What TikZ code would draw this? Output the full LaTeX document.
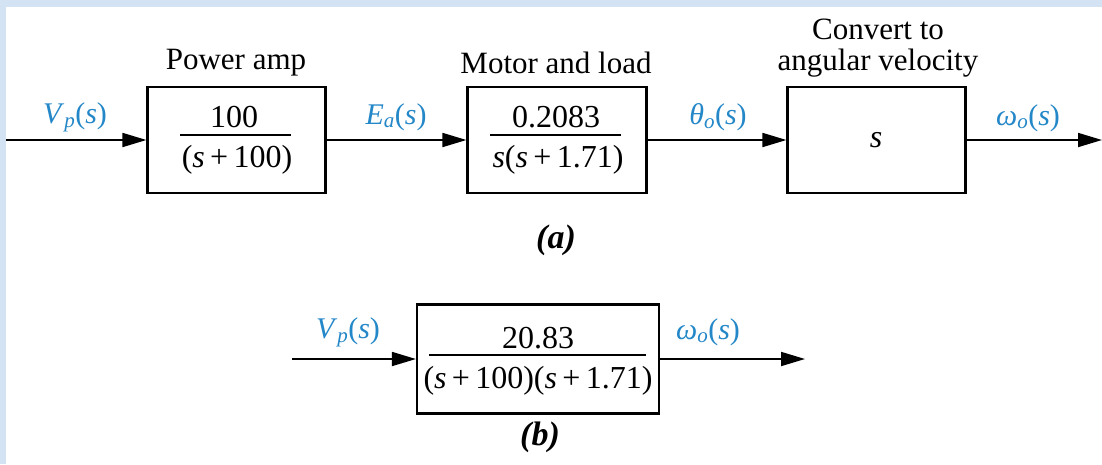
\documentclass[tikz,border=0pt]{standalone}
\usepackage{fontspec}
\setmainfont{Liberation Serif}
\usetikzlibrary{arrows.meta}
\definecolor{sig}{RGB}{35,135,200}
\definecolor{frame}{RGB}{211,227,243}
\newcommand{\iv}[1]{\textit{#1}}
\begin{document}
\begin{tikzpicture}[x=1pt,y=-1pt,
  blk/.style={draw,line width=2.2pt,inner sep=0pt},
  arr/.style={line width=1.8pt,-{Triangle[length=24pt,width=14pt]}},
  bar/.style={line width=1.8pt},
  lbl/.style={text=sig,font=\fontsize{30}{32}\selectfont,inner sep=0pt},
  ttl/.style={font=\fontsize{31}{34}\selectfont,inner sep=0pt,align=center},
  capt/.style={font=\fontsize{34}{36}\selectfont\bfseries\itshape,inner sep=0pt},
  frac/.style={font=\fontsize{32}{34}\selectfont,inner sep=0pt}]
\fill[white] (0,0) rectangle (1102,464);
\useasboundingbox (0,0) rectangle (1102,464);
\fill[frame] (0,0) rectangle (1102,7);
\fill[frame] (0,0) rectangle (6,464);
% (a)
\node[blk,minimum width=178pt,minimum height=106pt] (b1) at (236.5,140) {};
\node[blk,minimum width=179pt,minimum height=106pt] (b2) at (557,140) {};
\node[blk,minimum width=178pt,minimum height=106pt] (b3) at (876.5,140) {};
\coordinate (in1) at (6,140);
\coordinate (out1) at (1102,140);
\draw[arr] (in1) -- (b1.west);
\draw[arr] (b1.east) -- (b2.west);
\draw[arr] (b2.east) -- (b3.west);
\draw[arr] (b3.east) -- (out1);
\coordinate (f1a) at (180,135); \coordinate (f1b) at (291,135);
\draw[bar] (f1a) -- (f1b);
\node[frac] (n1) at (234,117) {100};
\node[frac] (d1) at (237,160) {(\iv{s}\,+\,100)};
\coordinate (f2a) at (490,135); \coordinate (f2b) at (621,135);
\draw[bar] (f2a) -- (f2b);
\node[frac] (n2) at (556,117) {0.2083};
\node[frac] (d2) at (558,160) {\iv{s}(\iv{s}\,+\,1.71)};
\node[frac] (n3) at (876,140) {\iv{s}};
\node[ttl] (t1) at (236,63) {Power amp};
\node[ttl] (t2) at (556,63) {Motor and load};
\node[ttl] (t3) at (878,29) {Convert to};
\node[ttl] (t4) at (878,63) {angular velocity};
\node[lbl] (l1) at (75,117) {\iv{V}\textsubscript{\iv{p}}(\iv{s})};
\node[lbl] (l2) at (396,117) {\iv{E}\textsubscript{\iv{a}}(\iv{s})};
\node[lbl] (l3) at (718,117) {\iv{θ}\textsubscript{\iv{o}}(\iv{s})};
\node[lbl] (l4) at (1028,118) {\iv{ω}\textsubscript{\iv{o}}(\iv{s})};
\node[capt] (ca) at (556,240) {(a)};
% (b)
\node[blk,minimum width=242pt,minimum height=109pt] (bb) at (538,359) {};
\coordinate (in2) at (292,359);
\coordinate (out2) at (805,359);
\draw[arr] (in2) -- (bb.west);
\draw[arr] (bb.east) -- (out2);
\coordinate (fba) at (429,355); \coordinate (fbb) at (646,355);
\draw[bar] (fba) -- (fbb);
\node[frac] (nb) at (538,338) {20.83};
\node[frac] (db) at (538,381) {(\iv{s}\,+\,100)(\iv{s}\,+\,1.71)};
\node[lbl] (l5) at (348,332) {\iv{V}\textsubscript{\iv{p}}(\iv{s})};
\node[lbl] (l6) at (708,332) {\iv{ω}\textsubscript{\iv{o}}(\iv{s})};
\node[capt] (cb) at (540,437) {(b)};
\end{tikzpicture}
\end{document}
